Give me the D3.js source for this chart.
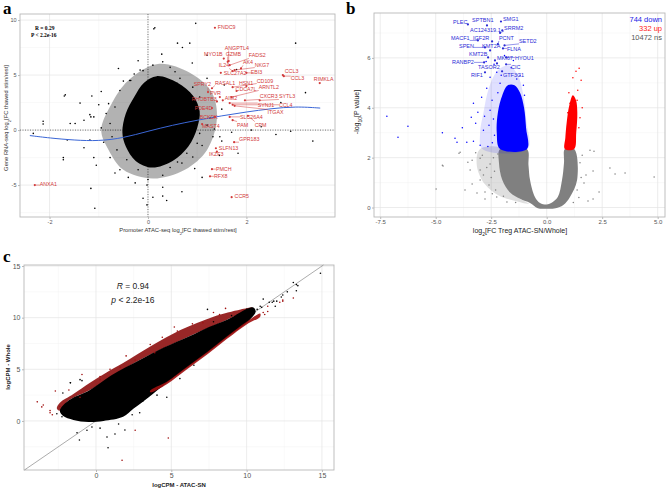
<!DOCTYPE html>
<html>
<head>
<meta charset="utf-8">
<script src="https://cdn.jsdelivr.net/npm/d3@7"></script>
<style>
body { margin: 0; background: #fff; }
text { font-family: "Liberation Sans", Arial, sans-serif; }
</style>
</head>
<body>
<script>
// ---------- panel a : promoter ATAC vs gene RNA ----------
var aCore = [[0.18,4.9],[0.6,4.3],[0.92,3.1],[1.05,1.7],[1.0,0.2],[0.82,-1.5],[0.5,-2.8],[0.08,-3.4],[-0.25,-2.8],[-0.45,-1.5],[-0.52,-0.2],[-0.45,1.5],[-0.28,3.0],[-0.08,4.3]];
var aHalo = [[0.2,6.0],[0.85,5.2],[1.3,3.4],[1.4,1.0],[1.2,-1.8],[0.75,-3.6],[0.1,-4.4],[-0.5,-3.6],[-0.8,-1.8],[-0.95,0],[-0.75,2.3],[-0.4,4.5]];
var aPts = [[-1.7,3.1],[-1.14,3.1],[0.12,9.2],[-1.0,2.3],[-1.16,1.2],[-0.5,4.45],[-0.28,5.1],[-0.1,5.4],[0.28,6.9],[-0.35,4.5],[-0.8,2.4],
  [0.97,9.7],[0.14,9.3],[0.85,7.9],[0.6,7.9],[0.7,7.5],[3.0,7.9],[1.2,6.8],[1.8,5.5],[3.2,3.4],[1.2,4.7],
  [-2.33,-0.3],[-2.13,0.8],[-2.13,0.55],[-1.72,-2.5],[-1.58,0.6],[-1.16,-5.3],[-1.08,-7.1],[-1.18,1.4],[-0.77,-2.5],[-0.67,-3.9],
  [-0.1,-6.2],[0.1,-6.1],[-0.02,-6.8],[0.3,-6.0],[0.38,-6.4],[0.69,-5.6],[0.69,-3.0],[1.0,-1.2],[1.83,-2.1],[2.1,0],[2.6,-0.4],
  [3.35,-1.0],[2.3,0.3],[1.46,-0.6],[1.32,-0.6],[-1.68,3.2],[-1.1,1.2],[-1.48,0.6],[-0.9,-1.1],[-1.1,-2.5],[-0.57,-3.6],
  [-0.26,-4.8],[-0.02,-5.0],[0,-4.5],[0.3,-4.1],[0.6,-2.9],[0.91,-2.45],[1.1,-1.4],[1.2,0.45],[1.26,1.1],[1.05,3.0],[0.91,3.9],
  [0.65,4.7],[0.45,5.7],[0.3,6.2],[0.1,5.9],[-0.16,5.45],[-0.37,4.5],[-0.57,3.6],[-0.67,2.1],[-0.77,0.6],[-0.73,-0.6],
  [-0.63,-1.8],[-0.43,-2.7],[-0.2,-3.6],[0.45,-3.4],[0.79,-2.1],[1.05,-0.3],[0.9,2.45],[0.71,3.35],[0.59,4.25],[-1.18,-0.9],
  [-1.38,2.45],[-1.64,-0.9],[-1.72,-2.7],[-0.85,1.5],[-0.95,0.2],[1.4,2.6],[1.35,0.1],[1.5,-1.0],[0.95,-3.5],[-0.4,-4.3],
  [0.55,5.3],[-0.2,6.3],[1.55,4.1],[-1.3,-1.6],[2.7,2.5],[2.9,-0.1],[1.5,1.9],[1.45,-2.3],[-1.05,-3.2],[-1.3,0.9],[0.9,6.1],
  [-0.6,5.6],[1.7,-0.2],[-0.95,3.5],[0.3,-5.2],[1.1,-4.3]];
var aFitX = [-2.4,-2,-1.5,-1,-0.5,0,0.5,1,1.5,2,2.5,3,3.5];
var aFitY = [-0.5,-0.72,-0.92,-1.0,-0.72,-0.1,0.45,0.9,1.3,1.65,1.95,2.15,2.0];
var aGenes = ["FNDC9","ANGPTL4","MYO1B","GZMB","FADS2","IL24","AK4","NKG7","SLC27A2","EBI3","CCL3","CCL3","RIMKLA",
  "RASAL1","HSN1","CD109","SPRY2","PVR","CDCA7L","ARNTL2","AIM2","CXCR3","SYTL3","RHOBTB3","SYNJ1","CCL4","PDE4D",
  "ITGAX","BCKDK","SLC26A4","PAM","CPM","MAST4","GPR183","SLFN13","IKZF3","PMCH","RFX8","ANXA1","CCR5"];
var aGeneX = [1.36,1.64,1.54,1.62,1.66,1.72,1.89,1.76,1.48,2.0,2.74,2.76,3.49,
  1.3,2.0,1.72,1.22,1.46,1.8,1.7,1.52,1.97,2.27,1.4,1.66,1.72,1.3,
  1.76,1.36,1.66,1.72,2.03,1.1,1.75,1.38,1.4,1.3,1.26,-2.3,1.7];
var aGeneY = [9.3,6.27,6.5,6.2,5.9,5.36,5.6,5.45,5.2,5.2,5.0,4.9,4.27,
  3.8,4.0,3.9,3.45,3.0,3.55,3.0,2.7,2.7,2.7,2.6,2.45,2.3,2.0,
  2.2,1.2,1.2,0.9,1.3,0.55,-1.1,-1.65,-1.95,-3.55,-4.2,-5.0,-6.1];
var aLabX = [1.42,1.56,1.14,1.58,2.05,1.44,1.93,2.17,1.54,2.09,2.78,2.9,3.37,
  1.36,1.85,2.21,0.93,1.26,1.78,2.25,1.56,2.27,2.66,0.89,2.23,2.66,0.95,
  2.43,1.05,1.87,1.81,2.17,1.1,1.85,1.44,1.24,1.38,1.34,-2.2,1.76];
var aLabY = [9.27,7.45,6.9,6.9,6.73,5.82,6.1,5.9,5.1,5.27,5.36,4.64,4.55,
  4.27,4.27,4.45,4.09,3.36,3.64,3.82,2.82,3.0,3.0,2.73,2.27,2.27,1.91,
  1.55,1.09,1.09,0.45,0.45,0.36,-0.91,-1.64,-2.27,-3.55,-4.27,-5.0,-6.09];

// ---------- panel b : volcano ----------
var bGrayCore = [[-2.1,2.35],[-0.89,2.35],[-0.82,1.7],[-0.75,1.1],[-0.53,0.42],[-0.3,0.18],[0,0.12],[0.2,0.18],[0.5,0.42],[0.69,1.1],[0.78,1.8],[0.82,2.35],
  [1.24,2.35],[1.37,1.1],[1.05,0.42],[0.75,0.1],[0.4,-0.03],[0,-0.05],[-0.4,-0.03],[-0.75,0.18],[-1.2,0.35],[-1.65,0.6],[-2.0,1.1],[-2.15,1.8]];
var bGrayHalo = [[-3.0,2.35],[-2.0,2.35],[-2.1,1.5],[-1.8,0.8],[-1.2,0.35],[-0.8,0.15],[-1.5,0.28],[-2.2,0.5],[-2.8,0.95],[-3.15,1.7]];
var bBlueHalo = [[-2.9,2.35],[-0.86,2.35],[-0.92,3.5],[-1.05,4.5],[-1.3,5.3],[-1.7,5.7],[-2.2,5.5],[-2.6,4.8],[-2.85,3.8],[-3.0,3.0]];
var bBlueCore = [[-2.1,2.35],[-0.89,2.35],[-0.93,3.2],[-1.02,4.0],[-1.2,4.6],[-1.45,4.9],[-1.75,4.9],[-2.0,4.5],[-2.2,3.8],[-2.25,3.0]];
var bRedCore = [[0.82,2.35],[1.24,2.35],[1.33,3.0],[1.38,3.8],[1.32,4.3],[1.18,4.5],[1.02,4.1],[0.9,3.4],[0.84,2.8]];
var bGray = [[-4.98,0.74],[-4.7,1.7],[-3.95,2.18],[-3.68,0.7],[-3.55,1.82],[-3.36,0.94],[-3.14,0.58],[-3.0,1.5],[-2.78,0.34],
  [1.95,2.3],[2.13,2.26],[2.09,1.46],[1.77,1.3],[1.68,0.98],[2.36,0.62],[2.09,0.34],[2.85,1.58],[3.08,1.34],[3.53,1.38],
  [4.84,1.22],[1.86,0.26],[1.37,0.7],[-4.67,1.66],[-3.9,2.22],[-3.36,1.9],[-3.45,1.5],[-3.0,1.1],[-2.78,0.62],[-2.25,0.42],
  [-1.79,0.22],[-3.0,1.98],[-2.5,1.2],[-2.6,0.9],[-2.4,2.0],[-2.7,1.6],[-3.2,2.2],[1.5,1.8],[1.45,0.4],[1.6,2.1],[1.2,0.2],
  [-2.3,0.7],[-2.9,2.1],[-1.4,0.2],[1.55,1.2],[-2.55,1.75],[-2.35,1.45],[-2.2,2.15],[-2.85,1.3],[-1.95,0.45],[-2.45,0.55]];
var bBlue = [[-7.2,3.66],[-6.7,2.82],[-6.25,3.26],[-4.7,3.0],[-4.13,2.78],[-4.04,2.62],[-3.8,3.2],[-3.6,2.62],[-3.3,2.66],
  [-3.2,3.38],[-3.4,3.62],[-2.8,3.66],[-2.73,5.86],[-2.55,5.22],[-2.7,4.78],[-2.93,4.42],[-2.46,4.3],[-3.3,4.18],[-3.1,3.82],
  [-2.1,4.98],[-2.25,5.42],[-2.37,5.74],[-1.6,5.6],[-1.9,6.1],[-1.5,5.9],[-3.0,2.5],[-2.6,3.3],[-1.2,5.3],[-2.45,2.6],
  [-2.55,3.9],[-1.35,5.15],[-1.05,4.9],[-2.05,5.3],[-2.4,3.55],[-2.35,2.9],[-2.65,2.45],[-2.2,4.6],[-1.0,4.5],[-2.85,3.1]];
var bRed = [[1.46,5.58],[1.32,5.46],[1.18,5.2],[1.55,5.1],[1.4,4.7],[1.37,4.3],[1.05,4.18],[1.6,4.0],[1.5,3.6],[0.95,3.8],[1.45,3.2],[1.0,4.6]];
var bGenes = ["PLEC","SPTBN1","SMG1","AC124319.1","SRRM2","MACF1","IGF2R","PCNT","SETD2","SPEN","KMT2A","FLNA",
  "KMT2B","MKI67","HYOU1","RANBP2","TASOR2","CIC","RIF1","GTF3C1"];
var bGeneX = [-3.55,-2.69,-2.06,-2.0,-2.1,-3.1,-2.46,-2.2,-1.9,-2.78,-2.55,-1.97,-2.64,-2.33,-1.83,-2.82,-2.24,-1.83,-2.78,-2.01];
var bGeneY = [7.34,7.3,7.46,7.1,7.0,6.7,6.66,6.55,6.5,6.42,6.3,6.38,6.02,5.9,6.02,5.82,5.78,5.74,5.42,5.46];
var bLabX = [-4.22,-3.36,-1.97,-3.45,-1.92,-4.31,-3.32,-2.15,-1.25,-3.95,-2.91,-1.79,-3.5,-2.24,-1.43,-4.27,-3.09,-1.61,-3.41,-1.97];
var bLabY = [7.42,7.5,7.54,7.1,7.18,6.78,6.78,6.78,6.66,6.46,6.46,6.34,6.14,5.98,5.98,5.82,5.62,5.62,5.3,5.3];
var bCounts = ["744 down","332 up","10472 ns"];

// ---------- panel c : logCPM ATAC-SN vs Whole ----------
var cRedUp = [[-2.6,1.2],[-2.4,1.75],[-1.5,2.6],[-0.4,3.7],[0.7,4.7],[1.8,5.6],[3.6,7.2],[5.6,8.8],[7.8,10.1],[9.6,10.8],[10.4,11.0],
  [8.7,9.8],[6.2,8.2],[2.9,5.9],[-0.4,3.0],[-1.8,2.0],[-2.4,1.0]];
var cBlack = [[-2.4,1.0],[-1.8,2.0],[-0.4,3.0],[1.0,4.4],[2.9,5.9],[4.5,7.1],[6.2,8.2],[7.5,9.1],[8.7,9.8],[10.4,11.0],[10.6,10.6],
  [10.0,9.5],[8.7,8.1],[7.4,6.6],[6.0,5.1],[4.7,3.7],[3.5,2.3],[2.5,1.2],[1.8,0.4],[0.5,0.0],[-0.5,-0.1],[-1.5,0.1],[-2.2,0.5]];
var cRedLow = [[3.6,2.75],[4.7,3.55],[6.0,4.95],[7.4,6.45],[8.7,7.95],[10.0,9.35],[10.9,10.1],[10.9,10.4],[10.0,9.6],[8.7,8.2],[7.4,6.7],[6.0,5.2],[4.7,3.8],[3.6,2.95]];
var cBlk = [[14.9,14.3],[13.3,13.2],[13.1,13.4],[12.7,12.5],[12.3,12.0],[11.8,11.6],[11.5,11.5],[10.9,11.1],[10.0,10.8],[11.9,11.1],
  [13.4,13.1],[13.3,12.6],[12.4,12.2],[12.0,11.6],[11.7,11.5],[11.1,11.8],[11.0,11.0],[10.7,10.8],
  [-2.26,0.4],[-1.7,3.7],[-2.2,2.7],[-0.93,3.9],[-1.1,-1.85],[-1.26,-1.15],[0.8,-2.6],[0.73,-1.55],[1.26,-1.26],[0.27,-0.7],
  [-0.27,-0.58],[1.92,-0.87],[4.05,2.5],[2.4,0.6],[5.57,4.1],[-1.06,4.0],[-1.7,3.7],[7.4,10.8],[7.8,9.6],[4.7,2.3],[2.9,0.8],
  [2.25,1.07],[3.6,2.7],[-2.6,0.7],[-2.0,1.6],[-0.6,-0.9],[1.5,-0.3],[3.1,1.9],[6.5,5.4],[9.0,10.2]];
var cRed = [[-3.9,1.85],[-3.6,1.36],[-2.7,2.9],[-3.05,1.0],[-2.9,0.6],[1.73,-3.8],[2.6,-0.9],[4.8,-1.65],[0.27,4.3],[-0.93,4.5],
  [12.4,11.7],[12.2,11.5],[11.4,10.6],[11.1,10.5],[13.1,11.9],[12.4,11.6],[11.4,11.1],[11.2,10.3],
  [5.2,9.1],[3.6,7.4],[2.6,5.9],[3.9,6.6],[7.8,10.5],[8.2,10.3],[8.6,10.9],[5.4,8.7],[7.1,9.5],[1.6,5.2],[0.93,5.0],
  [0.27,4.0],[-1.06,2.3],[-2.4,1.4],[-3.05,0.8],[-3.5,1.55],[2.0,6.3],[4.4,8.1],[6.4,9.4],[-1.8,3.0]];

var svg = d3.select("body").append("svg").attr("width", 669).attr("height", 489);
var area = d3.line().curve(d3.curveCatmullRomClosed.alpha(0.5));

function num(d){ return String(d).replace("\u2212","-"); }

function panel(l, t, r, b, xd, yd, xMaj, xMin, yMaj, yMin, fs, xFmt) {
    var x = d3.scaleLinear().domain(xd).range([l, r]);
    var y = d3.scaleLinear().domain(yd).range([b, t]);
    var g = svg.append("g");
    g.append("rect").attr("x", l).attr("y", t).attr("width", r-l).attr("height", b-t).attr("fill", "#fff");
    g.selectAll(null).data(xMin).enter().append("line")
        .attr("x1", x).attr("x2", x).attr("y1", t).attr("y2", b)
        .attr("stroke", "#f2f2f2").attr("stroke-width", 0.5);
    g.selectAll(null).data(yMin).enter().append("line")
        .attr("y1", y).attr("y2", y).attr("x1", l).attr("x2", r)
        .attr("stroke", "#f2f2f2").attr("stroke-width", 0.5);
    g.selectAll(null).data(xMaj).enter().append("line")
        .attr("x1", x).attr("x2", x).attr("y1", t).attr("y2", b)
        .attr("stroke", "#e4e4e4").attr("stroke-width", 0.7);
    g.selectAll(null).data(yMaj).enter().append("line")
        .attr("y1", y).attr("y2", y).attr("x1", l).attr("x2", r)
        .attr("stroke", "#e4e4e4").attr("stroke-width", 0.7);
    g.append("rect").attr("x", l).attr("y", t).attr("width", r-l).attr("height", b-t)
        .attr("fill", "none").attr("stroke", "#b8b8b8").attr("stroke-width", 0.9);

    var xa = g.append("g").attr("transform", "translate(0," + b + ")")
        .call(d3.axisBottom(x).tickValues(xMaj).tickSize(2).tickPadding(1).tickFormat(xFmt || num));
    var ya = g.append("g").attr("transform", "translate(" + l + ",0)")
        .call(d3.axisLeft(y).tickValues(yMaj).tickSize(2).tickPadding(1.5).tickFormat(num));
    [xa, ya].forEach(function(a){
        a.select(".domain").remove();
        a.selectAll(".tick line").attr("stroke", "#b8b8b8");
        a.selectAll(".tick text").attr("fill", "#555").style("font-size", fs + "px");
    });
    var plot = g.append("g");
    return {x: x, y: y, g: plot};
}

function blob(p, pts, fill, op) {
    p.g.append("path")
        .attr("d", area(pts.map(function(d){ return [p.x(d[0]), p.y(d[1])]; })))
        .attr("fill", fill).attr("fill-opacity", op);
}

function dots(p, pts, fill, r) {
    p.g.selectAll(null).data(pts).enter().append("circle")
        .attr("cx", function(d){ return p.x(d[0]); })
        .attr("cy", function(d){ return p.y(d[1]); })
        .attr("r", r).attr("fill", fill);
}

function geneLabels(p, names, gx, gy, lx, ly, col, fs) {
    var lg = p.g.append("g");
    names.forEach(function(n, i){
        var px = p.x(gx[i]), py = p.y(gy[i]);
        var t = lg.append("text").attr("x", p.x(lx[i])).attr("y", p.y(ly[i]))
            .attr("dominant-baseline", "middle").attr("fill", col)
            .style("font-size", fs + "px").text(n);
        var bb = t.node().getBBox();
        var cx = Math.max(bb.x, Math.min(px, bb.x + bb.width));
        var cy = Math.max(bb.y, Math.min(py, bb.y + bb.height));
        if (Math.hypot(cx - px, cy - py) > 3) {
            lg.insert("line", ":first-child").attr("x1", px).attr("y1", py).attr("x2", cx).attr("y2", cy)
                .attr("stroke", col).attr("stroke-width", 0.5);
        }
        lg.append("circle").attr("cx", px).attr("cy", py).attr("r", 1.1).attr("fill", col);
    });
}

function letter(s, x, y) {
    svg.append("text").attr("x", x).attr("y", y).text(s)
        .style("font-family", "'Liberation Serif','Times New Roman',serif")
        .style("font-weight", "bold").style("font-size", "17px");
}

// ---------- draw a ----------
var pa = panel(20, 14, 335, 217, [-2.6, 3.8], [-7.9, 10.55], [-2,0,2], [-1,1,3], [-5,0,5,10], [-7.5,-2.5,2.5,7.5], 5.5);
pa.g.append("line").attr("x1", pa.x(0)).attr("x2", pa.x(0)).attr("y1", 14).attr("y2", 217)
    .attr("stroke", "#555").attr("stroke-width", 0.8).attr("stroke-dasharray", "1,1.5");
pa.g.append("line").attr("y1", pa.y(0)).attr("y2", pa.y(0)).attr("x1", 20).attr("x2", 335)
    .attr("stroke", "#555").attr("stroke-width", 0.8).attr("stroke-dasharray", "1,1.5");
blob(pa, aHalo, "#000", 0.3);
blob(pa, aCore, "#000", 1);
dots(pa, aPts, "#000", 0.8);
pa.g.append("path")
    .attr("d", d3.line().curve(d3.curveBasis)
        .x(function(d, i){ return pa.x(aFitX[i]); })
        .y(function(d, i){ return pa.y(aFitY[i]); })(aFitX))
    .attr("fill", "none").attr("stroke", "#3a66d6").attr("stroke-width", 1);
geneLabels(pa, aGenes, aGeneX, aGeneY, aLabX, aLabY, "#d23a3a", 5.3);
var serif = "'Liberation Serif','Times New Roman',serif";
svg.append("text").attr("x", 35).attr("y", 30).text("R = 0.29")
    .style("font-family", serif).style("font-weight", "bold").style("font-size", "5.5px");
svg.append("text").attr("x", 31).attr("y", 37).text("P < 2.2e-16")
    .style("font-family", serif).style("font-weight", "bold").style("font-size", "5.5px");
var axa = svg.append("text").attr("x", 178).attr("y", 232).attr("text-anchor", "middle")
    .attr("fill", "#333").style("font-size", "5.8px");
axa.append("tspan").text("Promoter ATAC-seq log");
axa.append("tspan").attr("baseline-shift", "sub").style("font-size", "4.2px").text("2");
axa.append("tspan").text("[FC thawed stim/rest]");
var aya = svg.append("text").attr("transform", "translate(8,118) rotate(-90)").attr("text-anchor", "middle")
    .attr("fill", "#333").style("font-size", "5.8px");
aya.append("tspan").text("Gene RNA-seq log");
aya.append("tspan").attr("baseline-shift", "sub").style("font-size", "4.2px").text("2");
aya.append("tspan").text("[FC thawed stim/rest]");
letter("a", 3, 14);

// ---------- draw b ----------
var pb = panel(374, 13, 665, 217, [-7.78, 5.33], [-0.38, 7.8], [-7.5,-5,-2.5,0,2.5,5], [-6.25,-3.75,-1.25,1.25,3.75],
    [0,2,4,6], [1,3,5,7], 6, function(d){ return d.toFixed(1); });
blob(pb, bGrayHalo, "#808080", 0.25);
blob(pb, bGrayCore, "#808080", 1);
blob(pb, bBlueHalo, "#0000ff", 0.12);
blob(pb, bBlueCore, "#0000ff", 1);
blob(pb, bRedCore, "#ff0000", 1);
dots(pb, bGray, "#808080", 0.75);
dots(pb, bBlue, "#0000ff", 0.75);
dots(pb, bRed, "#ff0000", 0.75);
geneLabels(pb, bGenes, bGeneX, bGeneY, bLabX, bLabY, "#2b2bd6", 5.5);
var bCols = ["#1a1ae6", "#ff1a1a", "#555"];
svg.selectAll(".cnt").data(bCounts).enter().append("text")
    .attr("x", 662).attr("y", function(d, i){ return 22 + i * 9; })
    .attr("text-anchor", "end").attr("fill", function(d, i){ return bCols[i]; })
    .style("font-size", "7.5px").text(function(d){ return d; });
var axb = svg.append("text").attr("x", 520).attr("y", 233).attr("text-anchor", "middle")
    .attr("fill", "#222").style("font-size", "7px");
axb.append("tspan").text("log");
axb.append("tspan").attr("baseline-shift", "sub").style("font-size", "5px").text("2");
axb.append("tspan").text("[FC Treg ATAC-SN/Whole]");
var ayb = svg.append("text").attr("transform", "translate(359,112) rotate(-90)").attr("text-anchor", "middle")
    .attr("fill", "#222").style("font-size", "7px");
ayb.append("tspan").text("-log");
ayb.append("tspan").attr("baseline-shift", "sub").style("font-size", "5px").text("10");
ayb.append("tspan").text("[P value]");
letter("b", 346, 14);

// ---------- draw c ----------
var pc = panel(24, 265, 334, 470, [-4.78, 15.8], [-4.75, 15.1], [0,5,10,15], [-2.5,2.5,7.5,12.5], [0,5,10,15], [-2.5,2.5,7.5,12.5], 7);
pc.g.append("line").attr("x1", pc.x(-4.75)).attr("y1", pc.y(-4.75)).attr("x2", pc.x(15.1)).attr("y2", pc.y(15.1))
    .attr("stroke", "#888").attr("stroke-width", 0.7);
blob(pc, cRedUp, "#8e0f0f", 0.9);
blob(pc, cBlack, "#000", 1);
blob(pc, cRedLow, "#a01010", 0.9);
dots(pc, cBlk, "#000", 0.8);
dots(pc, cRed, "#a01010", 0.8);
var r1 = svg.append("text").attr("x", pc.x(2.45)).attr("y", pc.y(13.0)).attr("text-anchor", "middle")
    .attr("dominant-baseline", "middle").attr("fill", "#222").style("font-size", "8.5px");
r1.append("tspan").style("font-style", "italic").text("R");
r1.append("tspan").text(" = 0.94");
var r2 = svg.append("text").attr("x", pc.x(2.45)).attr("y", pc.y(11.6)).attr("text-anchor", "middle")
    .attr("dominant-baseline", "middle").attr("fill", "#222").style("font-size", "8.5px");
r2.append("tspan").style("font-style", "italic").text("p");
r2.append("tspan").text(" < 2.2e-16");
svg.append("text").attr("x", 179).attr("y", 487).attr("text-anchor", "middle")
    .style("font-size", "6px").style("font-weight", "bold").attr("fill", "#222").text("logCPM - ATAC-SN");
svg.append("text").attr("transform", "translate(10,367) rotate(-90)").attr("text-anchor", "middle")
    .style("font-size", "6px").style("font-weight", "bold").attr("fill", "#222").text("logCPM - Whole");
letter("c", 3, 262);
</script>
</body>
</html>
